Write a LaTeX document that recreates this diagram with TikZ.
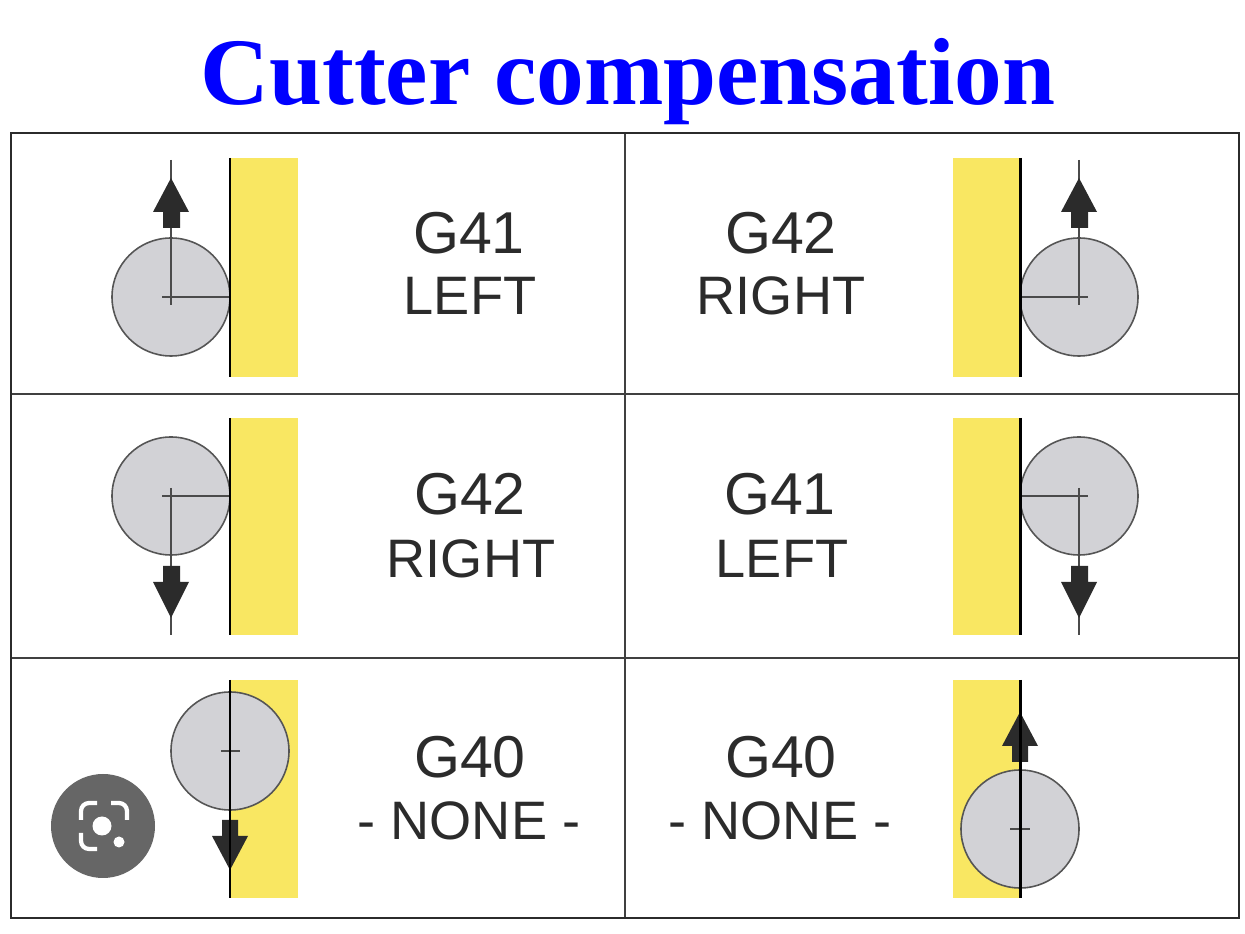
\documentclass[tikz,border=0pt]{standalone}
\usepackage{fontspec}
\setmainfont{Liberation Sans}
\newfontfamily\titlefont{Liberation Serif}
\usepackage{xcolor}
\definecolor{cutteryellow}{HTML}{F9E762}
\definecolor{cuttergray}{HTML}{D2D2D6}
\definecolor{inkdark}{HTML}{2B2B2B}
\definecolor{badgegray}{HTML}{666666}

\begin{document}
\begin{tikzpicture}[x=0.01cm, y=-0.01cm,
    stock/.style={fill=cutteryellow},
    wall/.style={line width=0.85pt, black},
    cutter/.style={draw=inkdark!80, line width=0.45pt, fill=cuttergray},
    hair/.style={line width=0.4pt, inkdark!85},
    feed/.style={fill=inkdark},
    grid/.style={line width=0.5pt, inkdark!90},
    code/.style={anchor=base, font=\fontsize{16.8}{20}\selectfont, text=inkdark},
    word/.style={anchor=base, font=\fontsize{15.4}{18}\selectfont, text=inkdark},
    bracket/.style={white, line width=1.2pt, rounded corners=0.08cm}]
    \useasboundingbox (0,0) rectangle (1245,934);
    \fill[white] (0,0) rectangle (1245,934);

    % Title
    \node[anchor=base, font=\titlefont\bfseries\fontsize{27.1}{32}\selectfont, text=blue] (title) at (628,105) {Cutter compensation};

    % Table
    \draw[grid] (11,394) -- (1239,394);
    \draw[grid] (11,658) -- (1239,658);
    \draw[grid] (625,133) -- (625,918);
    \draw[line width=0.7pt, inkdark] (11,133) rectangle (1239,918);

    % Top row, left
    \fill[stock] (230,158) rectangle (298,377);
    \draw[cutter] (171,297) circle (59);
    \draw[hair] (171,160) -- (171,305);
    \draw[hair] (162,297) -- (230,297);
    \fill[feed] (171,178) -- (189,212) -- (180,212) -- (180,228) -- (163,228) -- (163,212) -- (153,212) -- cycle;
    \draw[wall] (230,158) -- (230,377);
    \node[code] (g41a) at (469,254) {G41};
    \node[word] (lefta) at (470,315) {LEFT};

    % Top row, right
    \fill[stock] (953,158) rectangle (1020,377);
    \draw[cutter] (1079,297) circle (59);
    \draw[hair] (1079,160) -- (1079,305);
    \draw[hair] (1020,297) -- (1088,297);
    \fill[feed] (1079,178) -- (1097,212) -- (1088,212) -- (1088,228) -- (1071,228) -- (1071,212) -- (1061,212) -- cycle;
    \draw[wall] (1020,158) -- (1020,377);
    \node[code] (g42a) at (781,254) {G42};
    \node[word] (righta) at (781,315) {RIGHT};

    % Middle row, left
    \fill[stock] (230,418) rectangle (298,635);
    \draw[cutter] (171,496) circle (59);
    \draw[hair] (171,488) -- (171,635);
    \draw[hair] (162,496) -- (230,496);
    \fill[feed] (171,618) -- (189,582) -- (180,582) -- (180,566) -- (163,566) -- (163,582) -- (153,582) -- cycle;
    \draw[wall] (230,418) -- (230,635);
    \node[code] (g42b) at (470,515) {G42};
    \node[word] (rightb) at (471,578) {RIGHT};

    % Middle row, right
    \fill[stock] (953,418) rectangle (1020,635);
    \draw[cutter] (1079,496) circle (59);
    \draw[hair] (1079,488) -- (1079,635);
    \draw[hair] (1020,496) -- (1088,496);
    \fill[feed] (1079,618) -- (1097,582) -- (1088,582) -- (1088,566) -- (1071,566) -- (1071,582) -- (1061,582) -- cycle;
    \draw[wall] (1020,418) -- (1020,635);
    \node[code] (g41b) at (780,515) {G41};
    \node[word] (leftb) at (782,578) {LEFT};

    % Bottom row, left
    \fill[stock] (230,680) rectangle (298,898);
    \draw[cutter] (230,751) circle (59);
    \draw[hair] (221,751) -- (240,751);
    \fill[feed] (230,870) -- (248,836) -- (238,836) -- (238,820) -- (222,820) -- (222,836) -- (212,836) -- cycle;
    \draw[wall] (230,680) -- (230,898);
    \node[code] (g40a) at (470,778) {G40};
    \node[word] (nonea) at (469,840) {- NONE -};

    % Bottom row, right
    \fill[stock] (953,680) rectangle (1020,898);
    \draw[cutter] (1020,829) circle (59);
    \draw[hair] (1010,829) -- (1030,829);
    \fill[feed] (1020,712) -- (1038,746) -- (1028,746) -- (1028,762) -- (1012,762) -- (1012,746) -- (1002,746) -- cycle;
    \draw[wall] (1020,680) -- (1020,898);
    \node[code] (g40b) at (781,778) {G40};
    \node[word] (noneb) at (780,840) {- NONE -};

    % Lens badge
    \fill[badgegray] (103,826) circle (52);
    \fill[white] (102,826) circle (9.5);
    \fill[white] (119,842) circle (5.5);
    \draw[bracket] (81,820) -- (81,803) -- (97,803);
    \draw[bracket] (111,803) -- (127,803) -- (127,820);
    \draw[bracket] (81,833) -- (81,849) -- (97,849);
\end{tikzpicture}
\end{document}
